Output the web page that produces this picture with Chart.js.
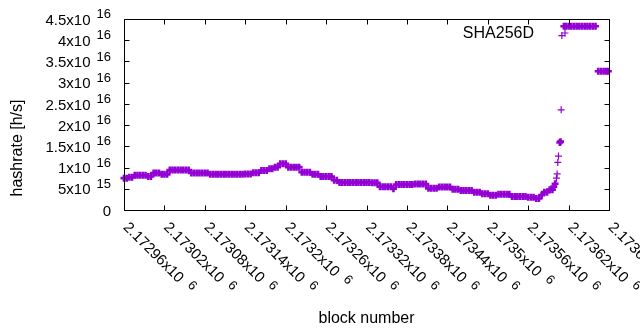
<!DOCTYPE html>
<html><head><meta charset="utf-8">
<script src="https://cdn.jsdelivr.net/npm/chart.js@4/dist/chart.umd.min.js"></script>
<style>html,body{margin:0;padding:0;background:#fff}canvas{display:block}</style>
</head><body>
<canvas id="c" width="640" height="330"></canvas>
<script>
const seriesName = 'SHA256D';
const xTitle = 'block number';
const yTitle = 'hashrate [h/s]';

const blocks = [
  2172960,2172964,2172968,2172972,2172976,2172980,2172984,2172988,2172992,2172996,
  2173000,2173004,2173008,2173012,2173016,2173020,2173024,2173028,2173032,2173036,
  2173040,2173044,2173048,2173052,2173056,2173060,2173064,2173068,2173072,2173076,
  2173080,2173084,2173088,2173092,2173096,2173100,2173104,2173108,2173112,2173116,
  2173120,2173124,2173128,2173132,2173136,2173140,2173144,2173148,2173152,2173156,
  2173160,2173164,2173168,2173172,2173176,2173180,2173184,2173188,2173192,2173196,
  2173200,2173204,2173208,2173212,2173216,2173220,2173224,2173228,2173232,2173236,
  2173240,2173244,2173248,2173252,2173256,2173260,2173264,2173268,2173272,2173276,
  2173280,2173284,2173288,2173292,2173296,2173300,2173304,2173308,2173312,2173316,
  2173320,2173324,2173328,2173332,2173336,2173340,2173344,2173348,2173352,2173356,
  2173360,2173364,2173368,2173372,2173376,2173380,2173384,2173388,2173392,2173396,
  2173400,2173404,2173408,2173412,2173416,2173420,2173424,2173428,2173432,2173436,
  2173440,2173444,2173448,2173452,2173456,2173460,2173464,2173468,2173472,2173476,
  2173480,2173484,2173488,2173492,2173496,2173500,2173504,2173508,2173512,2173516,
  2173520,2173524,2173528,2173532,2173536,2173540,2173544,2173548,2173552,2173556,
  2173560,2173564,2173568,2173572,2173576,2173580,2173584,2173588,2173592,2173596,
  2173598,2173600,2173602,2173603,2173604,2173605,2173607,2173608,2173609,2173610,
  2173613,2173616,2173620,2173624,2173628,2173632,2173636,2173640,2173644,2173648,
  2173652,2173656,2173660,2173664,2173668,2173672,2173676,2173679
];
const hashrate = [
  7.5e15,7.5e15,7.7e15,7.7e15,8.2e15,8.2e15,8.2e15,8.2e15,8.2e15,7.9e15,
  7.9e15,8.7e15,8.7e15,8.7e15,8.4e15,8.4e15,8.4e15,9.4e15,9.4e15,9.4e15,
  9.4e15,9.4e15,9.4e15,9.4e15,9.4e15,8.7e15,8.7e15,8.7e15,8.7e15,8.7e15,
  8.7e15,8.7e15,8.45e15,8.45e15,8.45e15,8.45e15,8.45e15,8.45e15,8.45e15,8.45e15,
  8.45e15,8.45e15,8.45e15,8.45e15,8.45e15,8.5e15,8.5e15,8.5e15,8.8e15,8.8e15,
  8.8e15,9.3e15,9.3e15,9.3e15,9.7e15,9.7e15,1.01e16,1.01e16,1.09e16,1.09e16,
  1.09e16,1.01e16,1.01e16,1.01e16,1.01e16,1.01e16,8.9e15,8.9e15,8.9e15,8.9e15,
  8.4e15,8.4e15,8.4e15,7.9e15,7.9e15,7.9e15,7.9e15,7.9e15,7.0e15,7.0e15,
  6.5e15,6.5e15,6.5e15,6.5e15,6.5e15,6.5e15,6.5e15,6.5e15,6.5e15,6.5e15,
  6.5e15,6.5e15,6.4e15,6.4e15,6.4e15,5.5e15,5.5e15,5.5e15,5.5e15,5.5e15,
  5.0e15,6.0e15,6.0e15,6.0e15,6.0e15,6.0e15,6.0e15,6.0e15,6.1e15,6.1e15,
  6.1e15,6.1e15,6.1e15,5.1e15,5.1e15,5.1e15,5.1e15,5.4e15,5.4e15,5.4e15,
  5.4e15,5.4e15,4.9e15,4.9e15,4.9e15,4.6e15,4.6e15,4.6e15,4.6e15,4.6e15,
  4.2e15,4.2e15,4.2e15,3.85e15,3.85e15,3.85e15,3.5e15,3.5e15,3.5e15,3.7e15,
  3.7e15,3.7e15,3.7e15,3.7e15,3.2e15,3.2e15,3.2e15,3.2e15,3.2e15,3.2e15,
  3.0e15,3.0e15,3.0e15,2.7e15,2.7e15,3.5e15,4.2e15,4.2e15,4.8e15,4.8e15,
  5.5e15,6.2e15,7.5e15,8.5e15,1.12e16,1.27e16,1.59e16,1.61e16,2.36e16,4.11e16,
  4.33e16,4.33e16,4.33e16,4.33e16,4.33e16,4.33e16,4.33e16,4.33e16,4.33e16,4.33e16,
  4.33e16,4.33e16,4.33e16,3.27e16,3.27e16,3.27e16,3.27e16,3.27e16
];

const xTickValues = [2172960,2173020,2173080,2173140,2173200,2173260,2173320,2173380,2173440,2173500,2173560,2173620,2173680];
const xTickMain = ['2.17296x10','2.17302x10','2.17308x10','2.17314x10','2.1732x10','2.17326x10','2.17332x10','2.17338x10','2.17344x10','2.1735x10','2.17356x10','2.17362x10','2.17368x10'];
const xTickSup = ['6','6','6','6','6','6','6','6','6','6','6','6','6'];
const yTickValues = [0,5e15,1e16,1.5e16,2e16,2.5e16,3e16,3.5e16,4e16,4.5e16];
const yTickMain = ['0','5x10','1x10','1.5x10','2x10','2.5x10','3x10','3.5x10','4x10','4.5x10'];
const yTickSup = ['','15','16','16','16','16','16','16','16','16'];

const FONT = '"Liberation Sans", Arial, sans-serif';
const COLOR = '#9400d3';

const gnuplotLook = {
  id: 'gnuplotLook',
  afterDatasetsDraw(chart) {
    const ctx = chart.ctx, xs = chart.scales.x, ys = chart.scales.y, a = chart.chartArea;
    ctx.save();
    ctx.strokeStyle = '#000';
    ctx.lineWidth = 1;
    const L = Math.round(a.left) + 0.5, R = Math.round(a.right) + 0.5;
    const T = Math.round(a.top) + 0.5, B = Math.round(a.bottom) + 0.5;
    ctx.beginPath();
    ctx.rect(L, T, R - L, B - T);
    yTickValues.forEach(v => {
      const y = Math.round(ys.getPixelForValue(v)) + 0.5;
      ctx.moveTo(L, y); ctx.lineTo(L + 5, y);
      ctx.moveTo(R, y); ctx.lineTo(R - 5, y);
    });
    xTickValues.forEach(v => {
      const x = Math.round(xs.getPixelForValue(v)) + 0.5;
      ctx.moveTo(x, B); ctx.lineTo(x, B - 5);
      ctx.moveTo(x, T); ctx.lineTo(x, T + 5);
    });
    ctx.stroke();

    ctx.fillStyle = '#000';
    ctx.textAlign = 'right';
    ctx.textBaseline = 'middle';
    yTickValues.forEach((v, i) => {
      const y = ys.getPixelForValue(v);
      let right = 111;
      if (yTickSup[i]) {
        ctx.font = '13px ' + FONT;
        const w = ctx.measureText(yTickSup[i]).width;
        ctx.fillText(yTickSup[i], right, y - 4.5);
        right -= w + 6;
      }
      ctx.font = '15px ' + FONT;
      ctx.fillText(yTickMain[i], right, y + 1.5);
    });
    xTickValues.forEach((v, i) => {
      const x = xs.getPixelForValue(v);
      ctx.save();
      ctx.translate(x + 1.5, 225);
      ctx.rotate(Math.PI / 4);
      ctx.textAlign = 'left';
      ctx.textBaseline = 'middle';
      ctx.font = '15px ' + FONT;
      ctx.fillText(xTickMain[i], 0, 0);
      const w = ctx.measureText(xTickMain[i]).width;
      ctx.font = '13px ' + FONT;
      ctx.fillText(xTickSup[i], w + 8, -4);
      ctx.restore();
    });
    ctx.font = '16px ' + FONT;
    ctx.textAlign = 'center';
    ctx.textBaseline = 'alphabetic';
    ctx.fillText(xTitle, (a.left + a.right) / 2, 323);
    ctx.save();
    ctx.translate(22, 148);
    ctx.rotate(-Math.PI / 2);
    ctx.fillText(yTitle, 0, 0);
    ctx.restore();
    ctx.textAlign = 'right';
    ctx.fillText(seriesName, 534, 37.5);
    ctx.strokeStyle = COLOR;
    ctx.lineWidth = 1.2;
    ctx.beginPath();
    ctx.moveTo(561.5, 33); ctx.lineTo(568.5, 33);
    ctx.moveTo(565, 29.5); ctx.lineTo(565, 36.5);
    ctx.stroke();
    ctx.restore();
  }
};

function markWidth(ctx) {
  const i = ctx.dataIndex;
  const v = hashrate[i];
  const dp = i > 0 ? Math.abs(v - hashrate[i - 1]) : Infinity;
  const dn = i < hashrate.length - 1 ? Math.abs(v - hashrate[i + 1]) : Infinity;
  return Math.min(dp, dn) > 8e14 ? 1.2 : 2.6;
}

new Chart(document.getElementById('c'), {
  type: 'scatter',
  data: {
    datasets: [{
      label: seriesName,
      data: blocks.map((b, i) => ({ x: b, y: hashrate[i] })),
      pointStyle: 'cross',
      pointRadius: 3.5,
      pointHoverRadius: 3.5,
      pointBorderWidth: markWidth,
      borderColor: COLOR,
      backgroundColor: COLOR,
      clip: false
    }]
  },
  options: {
    responsive: false,
    animation: false,
    events: [],
    layout: { padding: { top: 19, right: 31, left: 0, bottom: 0 } },
    plugins: { legend: { display: false }, tooltip: { enabled: false } },
    scales: {
      x: {
        type: 'linear', min: 2172960, max: 2173680,
        ticks: { display: false, stepSize: 60 },
        grid: { display: false }, border: { display: false },
        afterFit: s => { s.height = 120; }
      },
      y: {
        type: 'linear', min: 0, max: 4.5e16,
        ticks: { display: false, stepSize: 5e15 },
        grid: { display: false }, border: { display: false },
        afterFit: s => { s.width = 124; }
      }
    }
  },
  plugins: [gnuplotLook]
});
</script>
</body></html>
